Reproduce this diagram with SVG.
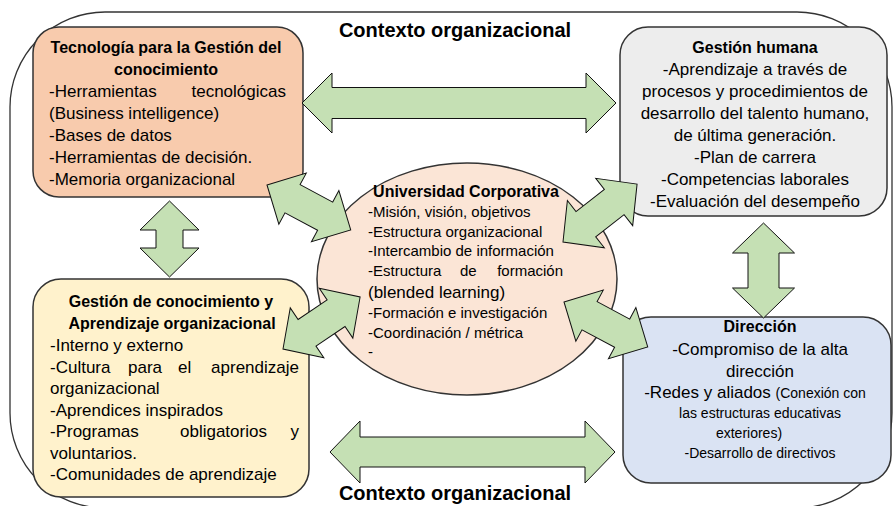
<svg xmlns="http://www.w3.org/2000/svg" width="894" height="506" viewBox="0 0 894 506">
<style>
  text { font-family: "Liberation Sans", Arial, sans-serif; fill: #000; }
  .t { font-size: 16px; font-weight: bold; }
  .b { font-size: 17px; }
  .s { font-size: 15px; }
  .xs { font-size: 14px; }
  .c { text-anchor: middle; }
  .e { text-anchor: end; }
  .ctx { font-size: 20px; font-weight: bold; text-anchor: middle; }
  .box { stroke: #333; stroke-width: 1.5; }
  .arr { fill: #c5e0b4; stroke: #111; stroke-width: 1; stroke-linejoin: miter; }
</style>
<rect width="894" height="506" fill="#fff"/>
<rect x="10" y="12" width="882" height="496" rx="95" ry="95" fill="none" stroke="#333" stroke-width="1.3"/>
<text class="ctx" x="455" y="37">Contexto organizacional</text>
<text class="ctx" x="455" y="500">Contexto organizacional</text>

<g id="tecnologia">
  <rect class="box" x="33" y="27" width="270" height="170" rx="26" fill="#f8cbad"/>
  <text class="t c" x="166" y="53">Tecnología para la Gestión del</text>
  <text class="t c" x="166" y="75">conocimiento</text>
  <text class="b" x="49" y="97">-Herramientas</text>
  <text class="b e" x="286" y="97">tecnológicas</text>
  <text class="b" x="49" y="119">(Business intelligence)</text>
  <text class="b" x="49" y="141">-Bases de datos</text>
  <text class="b" x="49" y="163">-Herramientas de decisión.</text>
  <text class="b" x="49" y="185">-Memoria organizacional</text>
</g>

<g id="gestion-humana">
  <rect class="box" x="620" y="27" width="267" height="189" rx="28" fill="#ededed"/>
  <text class="t c" x="755" y="53">Gestión humana</text>
  <text class="b c" x="755" y="75">-Aprendizaje a través de</text>
  <text class="b c" x="755" y="97">procesos y procedimientos de</text>
  <text class="b c" x="755" y="119">desarrollo del talento humano,</text>
  <text class="b c" x="755" y="141">de última generación.</text>
  <text class="b c" x="755" y="163">-Plan de carrera</text>
  <text class="b c" x="755" y="185">-Competencias laborales</text>
  <text class="b c" x="755" y="207">-Evaluación del desempeño</text>
</g>

<g id="gestion-conocimiento">
  <rect class="box" x="33" y="279" width="276" height="218" rx="28" fill="#fff2cc"/>
  <text class="t c" x="171" y="307">Gestión de conocimiento y</text>
  <text class="t c" x="172" y="329">Aprendizaje organizacional</text>
  <text class="b" x="50" y="351">-Interno y externo</text>
  <text class="b" x="50" y="373">-Cultura</text>
  <text class="b" x="128" y="373">para</text>
  <text class="b" x="178" y="373">el</text>
  <text class="b e" x="299" y="373">aprendizaje</text>
  <text class="b" x="50" y="394">organizacional</text>
  <text class="b" x="50" y="416">-Aprendices inspirados</text>
  <text class="b" x="50" y="437">-Programas</text>
  <text class="b" x="180" y="437">obligatorios</text>
  <text class="b e" x="299" y="437">y</text>
  <text class="b" x="50" y="459">voluntarios.</text>
  <text class="b" x="50" y="480">-Comunidades de aprendizaje</text>
</g>

<g id="direccion">
  <rect class="box" x="623" y="317" width="268" height="166" rx="28" fill="#dae3f3"/>
  <text class="t c" x="760" y="332">Dirección</text>
  <text class="b c" x="760" y="355">-Compromiso de la alta</text>
  <text class="b c" x="760" y="377">dirección</text>
  <text class="b c" x="755" y="398">-Redes y aliados <tspan class="xs">(Conexión con</tspan></text>
  <text class="xs c" x="760" y="418">las estructuras educativas</text>
  <text class="xs c" x="749" y="438">exteriores)</text>
  <text class="xs c" x="760" y="458">-Desarrollo de directivos</text>
</g>

<g id="universidad">
  <ellipse class="box" cx="467" cy="279" rx="150" ry="116" fill="#fbe5d6"/>
  <text class="t c" x="466" y="197">Universidad Corporativa</text>
  <text class="s" x="368" y="217">-Misión, visión, objetivos</text>
  <text class="s" x="368" y="237">-Estructura organizacional</text>
  <text class="s" x="368" y="256">-Intercambio de información</text>
  <text class="s" x="368" y="276">-Estructura</text>
  <text class="s" x="460" y="276">de</text>
  <text class="s e" x="563" y="276">formación</text>
  <text class="b" x="368" y="298">(blended learning)</text>
  <text class="s" x="368" y="318">-Formación e investigación</text>
  <text class="s" x="368" y="338">-Coordinación / métrica</text>
  <text class="s" x="368" y="357">-</text>
</g>

<g id="connectors">
  <polygon class="arr" transform="translate(302,103)" points="0,0 30,-30 30,-15.5 284,-15.5 284,-30 314,0 284,30 284,15.5 30,15.5 30,30"/>
  <polygon class="arr" transform="translate(330,452)" points="0,0 30,-31 30,-15 255,-15 255,-31 285,0 255,31 255,15 30,15 30,31"/>
  <polygon class="arr" transform="translate(169.5,201) rotate(90)" points="0,0 29,-29.5 29,-13.5 47,-13.5 47,-29.5 76,0 47,29.5 47,13.5 29,13.5 29,29.5"/>
  <polygon class="arr" transform="translate(763.5,223) rotate(90)" points="0,0 30,-31 30,-15.5 65,-15.5 65,-31 95,0 65,31 65,15.5 30,15.5 30,31"/>
  <polygon class="arr" transform="translate(267,185) rotate(28.2)" points="0,0 29,-29 29,-16 66,-16 66,-29 95,0 66,29 66,16 29,16 29,29"/>
  <polygon class="arr" transform="translate(563,242) rotate(-38)" points="0,0 29,-30 29,-16 65,-16 65,-30 94,0 65,30 65,16 29,16 29,30"/>
  <polygon class="arr" transform="translate(283,349) rotate(-34)" points="0,0 29,-30 29,-16 64,-16 64,-30 93,0 64,30 64,16 29,16 29,30"/>
  <polygon class="arr" transform="translate(564,302) rotate(28.2)" points="0,0 29,-29 29,-16 66,-16 66,-29 95,0 66,29 66,16 29,16 29,29"/>
</g>
</svg>
